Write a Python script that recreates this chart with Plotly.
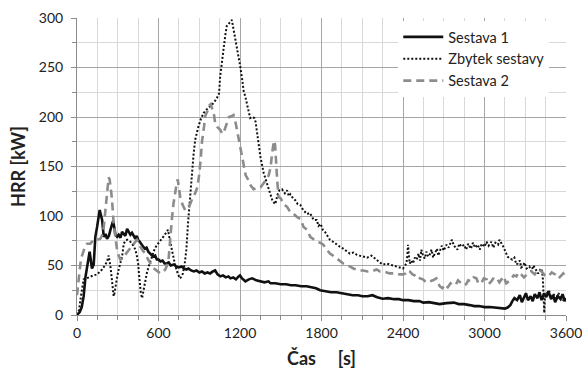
import plotly.graph_objects as go

# ---- data ----
t_s1 = [0, 20, 35, 49, 62, 74, 85, 93, 102, 110, 123, 135, 148, 160, 167, 176, 185, 197, 210, 221, 235, 246, 258, 266, 275, 283, 295, 307, 320, 332, 344, 356, 369, 381, 393, 405, 418, 430, 440, 450, 462, 475, 487, 500, 512, 525, 540, 550, 561, 575, 588, 600, 615, 630, 645, 660, 675, 690, 713, 730, 750, 770, 787, 805, 820, 840, 860, 880, 900, 920, 940, 960, 980, 1000, 1017, 1035, 1055, 1075, 1095, 1115, 1130, 1150, 1170, 1190, 1200, 1215, 1240, 1265, 1290, 1320, 1350, 1380, 1410, 1425, 1460, 1500, 1540, 1575, 1610, 1650, 1690, 1725, 1760, 1790, 1830, 1870, 1910, 1950, 1990, 2030, 2070, 2100, 2140, 2175, 2210, 2250, 2290, 2335, 2370, 2400, 2440, 2480, 2520, 2550, 2590, 2630, 2670, 2720, 2775, 2810, 2850, 2890, 2925, 2960, 3000, 3040, 3075, 3110, 3130, 3150, 3170, 3190, 3205, 3220, 3240, 3260, 3275, 3290, 3305, 3320, 3340, 3355, 3370, 3390, 3405, 3420, 3440, 3455, 3470, 3490, 3505, 3520, 3540, 3560, 3575, 3590, 3600]
v_s1 = [0, 3, 8, 19, 38, 49, 60, 64, 55, 47, 51, 79, 89, 100, 106, 101, 96, 79, 82, 77, 80, 86, 93, 95, 88, 81, 79, 81, 78, 84, 82, 80, 87, 84, 81, 83, 79, 77, 80, 76, 74, 71, 69, 67, 68, 64, 62, 61, 59, 60, 56, 56, 54, 55, 52, 52, 53, 50, 51, 49, 48, 49, 47, 46, 47, 45, 44, 45, 43, 44, 42, 43, 42, 44, 45, 41, 39, 40, 38, 39, 37, 38, 36, 39, 40, 37, 34, 36, 37, 35, 34, 33, 34, 32, 32, 31, 31, 30, 30, 29, 29, 28, 27, 25, 24, 23, 23, 22, 21, 20, 20, 19, 19, 20, 18, 16.5, 17, 16, 16, 15, 15, 14, 14, 12.5, 13, 12, 11, 12, 12.5, 11, 11, 10, 9, 9, 8, 8, 7.5, 7, 6.5, 6.5, 7.5, 10, 14, 17, 15, 20, 13, 18, 22, 15, 19, 14, 21, 17, 23, 15, 22, 18, 24, 16, 20, 13, 19, 16, 21, 14, 17]

t_zb = [0, 15, 30, 40, 49, 70, 98, 120, 148, 165, 185, 205, 221, 233, 240, 246, 252, 258, 264, 270, 276, 283, 295, 307, 320, 332, 344, 356, 369, 381, 393, 410, 430, 440, 450, 456, 462, 470, 479, 488, 498, 515, 535, 555, 572, 590, 610, 630, 646, 660, 670, 683, 695, 707, 720, 731, 745, 756, 765, 780, 793, 805, 817, 830, 846, 858, 870, 883, 895, 912, 932, 950, 968, 985, 1005, 1030, 1046, 1054, 1067, 1079, 1092, 1103, 1118, 1128, 1140, 1148, 1160, 1172, 1187, 1202, 1214, 1226, 1240, 1251, 1264, 1275, 1290, 1305, 1315, 1324, 1337, 1350, 1375, 1400, 1420, 1440, 1460, 1477, 1490, 1509, 1530, 1546, 1560, 1570, 1590, 1607, 1625, 1644, 1665, 1693, 1715, 1742, 1765, 1778, 1794, 1810, 1825, 1845, 1862, 1885, 1911, 1935, 1960, 1985, 2009, 2035, 2058, 2080, 2107, 2135, 2168, 2185, 2205, 2230, 2254, 2280, 2303, 2330, 2352, 2375, 2400, 2415, 2425, 2432, 2437, 2443, 2450, 2462, 2474, 2487, 2500, 2515, 2525, 2535, 2547, 2560, 2572, 2585, 2597, 2610, 2622, 2634, 2650, 2660, 2670, 2685, 2700, 2720, 2735, 2750, 2760, 2775, 2790, 2800, 2815, 2830, 2850, 2865, 2880, 2900, 2915, 2930, 2950, 2965, 2980, 3000, 3015, 3030, 3050, 3065, 3080, 3100, 3110, 3120, 3135, 3145, 3160, 3170, 3185, 3205, 3220, 3235, 3245, 3260, 3270, 3280, 3295, 3310, 3330, 3345, 3360, 3380, 3395, 3415, 3425, 3430, 3436, 3440, 3445, 3460, 3475, 3490, 3510, 3525, 3545, 3560, 3580, 3600]
v_zb = [0, 5, 20, 30, 36, 37, 39, 40, 41, 43, 46, 50, 54, 60, 55, 49, 42, 36, 26, 19, 22, 29, 38, 46, 53, 59, 72, 75, 76, 75, 74, 71, 66, 60, 52, 42, 32, 22, 17, 24, 34, 43, 52, 60, 67, 71, 74, 78, 81, 84, 86, 76, 67, 59, 52, 46, 41, 37, 38, 42, 52, 66, 92, 116, 144, 162, 177, 185, 191, 198, 204, 207, 209, 211, 214, 219, 224, 241, 257, 271, 283, 292, 294, 296, 298, 292, 285, 274, 262, 251, 240, 227, 220, 214, 206, 199, 200, 199, 195, 187, 176, 160, 143, 132, 122, 115, 112, 122, 126, 127, 123, 126, 120, 122, 118, 116, 112, 111, 106, 102, 103, 96, 96, 90, 92, 86, 84, 80, 76, 74, 71, 69, 67, 64, 62, 63, 61, 60, 59, 58, 60, 58, 56, 53, 51, 52, 51, 50, 49, 48, 47, 50, 52, 60, 71, 60, 52, 55, 52, 58, 56, 62, 55, 66, 60, 57, 64, 59, 61, 66, 58, 62, 67, 60, 64, 70, 65, 71, 68, 74, 76, 70, 67, 66, 72, 69, 71, 66, 72, 67, 73, 68, 71, 66, 72, 69, 74, 70, 74, 68, 73, 71, 76, 74, 70, 67, 62, 59, 57, 56, 58, 51, 52, 55, 48, 49, 53, 47, 49, 44, 50, 46, 42, 47, 44, 36, 10, 2, 19, 22, 25, 17, 21, 16, 22, 19, 15, 17]

t_s2 = [0, 12, 25, 37, 49, 62, 74, 98, 123, 148, 172, 190, 197, 207, 216, 225, 233, 240, 246, 252, 258, 264, 270, 283, 295, 307, 319, 332, 344, 360, 381, 400, 418, 430, 442, 455, 466, 485, 503, 520, 540, 558, 576, 595, 613, 630, 650, 662, 674, 680, 686, 698, 710, 722, 735, 742, 750, 760, 775, 789, 796, 812, 833, 850, 870, 886, 900, 911, 920, 935, 944, 960, 968, 985, 993, 1009, 1017, 1033, 1054, 1070, 1079, 1095, 1103, 1119, 1140, 1152, 1165, 1177, 1193, 1202, 1217, 1226, 1242, 1263, 1278, 1300, 1315, 1335, 1352, 1370, 1389, 1411, 1425, 1438, 1450, 1458, 1465, 1474, 1484, 1499, 1521, 1548, 1570, 1596, 1619, 1645, 1668, 1694, 1717, 1740, 1766, 1790, 1813, 1840, 1862, 1885, 1911, 1935, 1960, 1985, 2009, 2035, 2058, 2080, 2107, 2140, 2168, 2185, 2205, 2230, 2254, 2280, 2303, 2330, 2352, 2375, 2400, 2420, 2435, 2450, 2470, 2486, 2500, 2510, 2525, 2547, 2570, 2597, 2620, 2646, 2658, 2670, 2690, 2710, 2730, 2750, 2770, 2790, 2805, 2825, 2845, 2865, 2880, 2900, 2920, 2940, 2955, 2975, 2995, 3015, 3030, 3050, 3070, 3090, 3110, 3125, 3140, 3160, 3180, 3195, 3215, 3235, 3250, 3270, 3290, 3320, 3345, 3370, 3395, 3420, 3445, 3470, 3495, 3520, 3545, 3560, 3580, 3600]
v_s2 = [20, 35, 52, 60, 66, 70, 72, 72, 76, 76, 77, 82, 89, 105, 119, 130, 139, 137, 132, 124, 116, 104, 92, 78, 66, 60, 56, 57, 59, 62, 66, 69, 72, 74, 76, 73, 69, 65, 62, 57, 52, 48, 46, 44, 42, 43, 46, 50, 56, 66, 79, 96, 112, 124, 134, 137, 128, 119, 112, 108, 106, 108, 112, 118, 123, 129, 142, 158, 175, 190, 201, 206, 211, 213, 209, 202, 194, 190, 187, 183, 184, 190, 194, 200, 201, 202, 196, 187, 176, 171, 156, 152, 141, 136, 131, 127, 128, 129, 129, 132, 136, 141, 149, 165, 176, 172, 150, 136, 119, 118, 112, 109, 104, 102, 99, 97, 89, 86, 79, 77, 74, 73, 71, 66, 62, 60, 57, 55, 52, 50, 49, 47, 46, 45, 45, 44, 44, 45, 46, 44, 44, 43, 42, 42, 42, 41, 41, 42, 45, 44, 41, 40, 38, 39, 37, 36, 33, 34, 35, 37, 33, 29, 27, 31, 28, 32, 30, 31, 35, 32, 30, 31, 35, 34, 38, 37, 32, 32, 37, 36, 31, 34, 38, 37, 33, 36, 39, 32, 34, 36, 40, 39, 43, 41, 38, 42, 44, 41, 46, 44, 40, 39, 43, 41, 37, 39, 42, 37]

names = ["Sestava 1", "Zbytek sestavy", "Sestava 2"]
x_ticks = [0, 600, 1200, 1800, 2400, 3000, 3600]
y_ticks = [0, 50, 100, 150, 200, 250, 300]

FONT = "Lato, Carlito, 'Open Sans', sans-serif"

fig = go.Figure()
fig.add_trace(go.Scatter(x=t_s1, y=v_s1, mode="lines", name=names[0],
                         line=dict(color="#111111", width=2.6)))
fig.add_trace(go.Scatter(x=t_zb, y=v_zb, mode="lines", name=names[1],
                         line=dict(color="#111111", width=2, dash="2px,2px")))
fig.add_trace(go.Scatter(x=t_s2, y=v_s2, mode="lines", name=names[2],
                         line=dict(color="#8c8c8c", width=2.6, dash="8px,5px")))

fig.update_layout(
    width=582, height=371,
    margin=dict(l=77, r=16, t=18, b=56),
    paper_bgcolor="white", plot_bgcolor="white",
    font=dict(family=FONT, size=13, color="#222222"),
    showlegend=True,
    legend=dict(x=0.657, y=0.99, xanchor="left", yanchor="top",
                bgcolor="white", borderwidth=0, itemwidth=40,
                font=dict(family=FONT, size=14.5, color="#222222"),
                traceorder="normal"),
)
fig.update_xaxes(
    range=[0, 3600], tickvals=x_ticks, ticktext=[str(v) for v in x_ticks],
    showgrid=True, gridcolor="#a6a6a6", gridwidth=1,
    showline=True, linecolor="#8c8c8c", linewidth=1,
    ticks="outside", ticklen=5, tickcolor="#8c8c8c",
    minor=dict(dtick=150, tick0=0, showgrid=True, gridcolor="#d9d9d9",
               ticks="outside", ticklen=4, tickcolor="#8c8c8c"),
    zeroline=False, ticklabeloverflow="allow", automargin=False,
    title=dict(text="<b>Čas&nbsp;&nbsp;&nbsp;&nbsp;&nbsp;[s]</b>", font=dict(family=FONT, size=18, color="#222222"), standoff=12),
    tickfont=dict(family=FONT, size=14, color="#222222"),
)
fig.update_yaxes(
    range=[0, 300], tickvals=y_ticks, ticktext=[str(v) for v in y_ticks],
    showgrid=True, gridcolor="#a6a6a6", gridwidth=1,
    showline=True, linecolor="#8c8c8c", linewidth=1,
    ticks="outside", ticklen=5, tickcolor="#8c8c8c",
    minor=dict(dtick=25, tick0=0, showgrid=True, gridcolor="#d9d9d9",
               ticks="outside", ticklen=4, tickcolor="#8c8c8c"),
    zeroline=False, ticklabelstandoff=5, automargin=False,
    title=dict(text="<b>HRR [kW]</b>", font=dict(family=FONT, size=18, color="#222222"), standoff=8),
    tickfont=dict(family=FONT, size=14, color="#222222"),
)

fig.write_html("out.html")
